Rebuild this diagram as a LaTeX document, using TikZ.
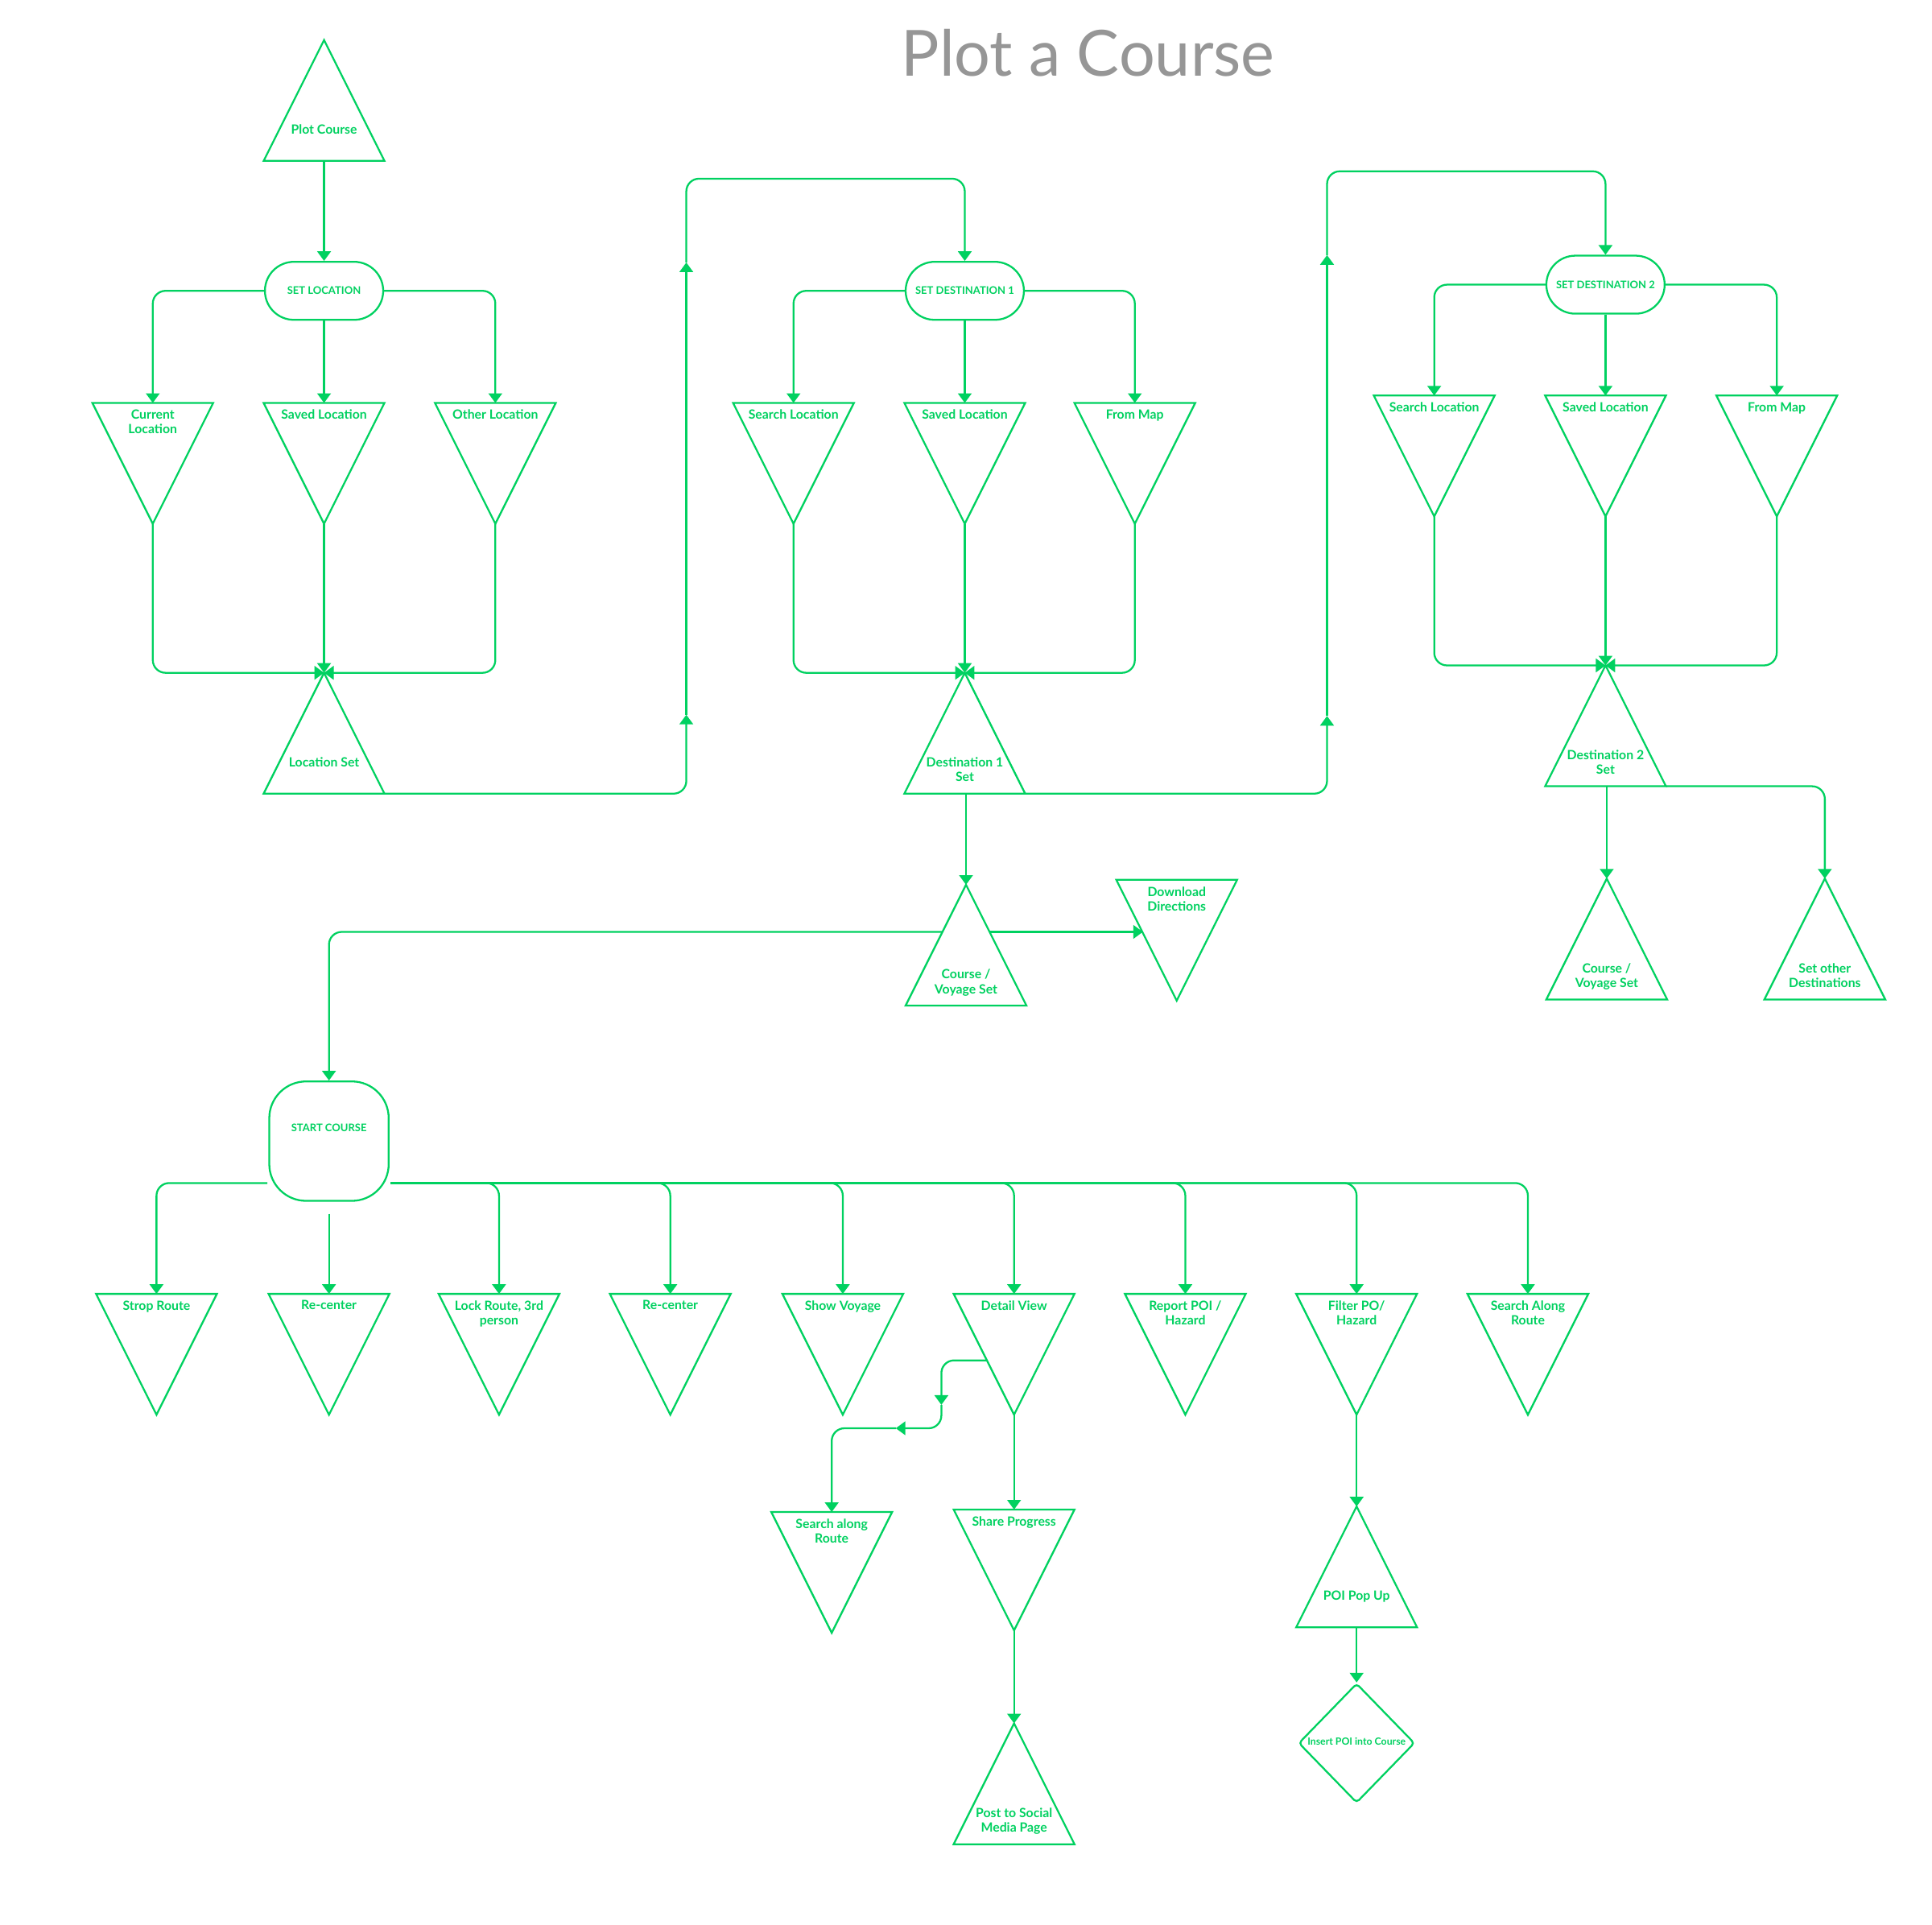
\documentclass[tikz,border=0pt]{standalone}
\usepackage{fontspec}
\setmainfont{Lato}
\usetikzlibrary{arrows.meta,shapes.misc,shapes.geometric,calc}
\definecolor{grn}{RGB}{0,209,96}
\definecolor{ttl}{RGB}{150,150,150}
\tikzset{
  tribox/.style={minimum width=42.7pt,minimum height=42.7pt,inner sep=0pt,outer sep=0pt,draw=none},
  shp/.style={draw=grn,line width=0.65pt},
  lbl/.style={font=\fontsize{4.5pt}{5.2pt}\selectfont\bfseries,text=grn,align=center,inner sep=0pt},
  stad/.style={rounded rectangle,draw=grn,line width=0.65pt,minimum width=41.8pt,minimum height=20.5pt,inner sep=0pt,font=\fontsize{3.7pt}{4.5pt}\selectfont\bfseries,text=grn},
  arr/.style={draw=grn,line width=0.65pt,rounded corners=4.5pt,-{Triangle[width=4.8pt,length=3.4pt]}},
  ln/.style={draw=grn,line width=0.65pt,rounded corners=4.5pt}
}
\newcommand{\DTri}[4]{%
  \node[tribox] (#1) at (#2,#3) {};
  \draw[shp] (#1.north west) -- (#1.north east) -- (#1.south) -- cycle;
  \node[lbl,anchor=north] (#1-t) at ([yshift=-2.2pt]#1.north) {#4};}
\newcommand{\UTri}[4]{%
  \node[tribox] (#1) at (#2,#3) {};
  \draw[shp] (#1.south west) -- (#1.south east) -- (#1.north) -- cycle;
  \node[lbl,anchor=north] (#1-t) at ([yshift=13pt]#1.south) {#4};}
\begin{document}
\begin{tikzpicture}[x=0.015306cm,y=-0.015306cm]
\fill[white] (0,0) rectangle (1568,1562);
\useasboundingbox (0,0) rectangle (1568,1562);

% title
\node[font=\fontsize{22.5pt}{28pt}\selectfont,text=ttl,anchor=base,inner sep=0pt] (title) at (883,62) {Plot a Course};

% ---- group 1
\UTri{plot}{263}{81.5}{Plot Course}
\node[stad] (setloc) at (263,236) {SET LOCATION};
\DTri{curloc}{124}{376}{Current\\Location}
\DTri{savloc}{263}{376}{Saved Location}
\DTri{othloc}{402}{376}{Other Location}
\UTri{locset}{263}{595}{Location Set}

\draw[arr] (plot.south) -- (setloc.north);
\draw[arr] (setloc.west) -| (curloc.north);
\draw[arr] (setloc.south) -- (savloc.north);
\draw[arr] (setloc.east) -| (othloc.north);
\draw[arr] (curloc.south) |- (locset.north);
\draw[arr] (savloc.south) -- (locset.north);
\draw[arr] (othloc.south) |- (locset.north);

% ---- group 2
\node[stad] (setd1) at (783,236) {SET DESTINATION 1};
\DTri{srch1}{644}{376}{Search Location}
\DTri{sav1}{783}{376}{Saved Location}
\DTri{map1}{921}{376}{From Map}
\UTri{dset1}{783}{595}{Destination 1\\Set}

\coordinate (c1) at (557,580);
\coordinate (c2) at (557,213);
\coordinate (c3) at (783,145);
\draw[arr] (locset.south east) -| (c1);
\draw[arr] (c1) -- (c2);
\draw[arr] (c2) |- (c3) -- (setd1.north);

\draw[arr] (setd1.west) -| (srch1.north);
\draw[arr] (setd1.south) -- (sav1.north);
\draw[arr] (setd1.east) -| (map1.north);
\draw[arr] (srch1.south) |- (dset1.north);
\draw[arr] (sav1.south) -- (dset1.north);
\draw[arr] (map1.south) |- (dset1.north);

% ---- group 3
\node[stad] (setd2) at (1303,231) {SET DESTINATION 2};
\DTri{srch2}{1164}{370}{Search Location}
\DTri{sav2}{1303}{370}{Saved Location}
\DTri{map2}{1442}{370}{From Map}
\UTri{dset2}{1303}{589}{Destination 2\\Set}
\UTri{cvs2}{1304}{762}{Course /\\Voyage Set}
\UTri{setoth}{1481}{762}{Set other\\Destinations}

\coordinate (c4) at (1077,581);
\coordinate (c5) at (1077,207);
\coordinate (c6) at (1303,139);
\draw[arr] (dset1.south east) -| (c4);
\draw[arr] (c4) -- (c5);
\draw[arr] (c5) |- (c6) -- (setd2.north);

\draw[arr] (setd2.west) -| (srch2.north);
\draw[arr] (setd2.south) -- (sav2.north);
\draw[arr] (setd2.east) -| (map2.north);
\draw[arr] (srch2.south) |- (dset2.north);
\draw[arr] (sav2.south) -- (dset2.north);
\draw[arr] (map2.south) |- (dset2.north);
\draw[arr] (dset2.south -| cvs2.north) -- (cvs2.north);
\draw[arr] (dset2.south east) -| (setoth.north);

% ---- course set
\UTri{cvs1}{784}{767}{Course /\\Voyage Set}
\DTri{dl}{955}{763}{Download\\Directions}
\draw[arr] (dset1.south -| cvs1.north) -- (cvs1.north);
\coordinate (e1) at ($(cvs1.north)!0.39!(cvs1.south west)$);
\coordinate (e2) at ($(cvs1.north)!0.39!(cvs1.south east)$);
\coordinate (dle) at ($(dl.north west)!0.44!(dl.south)$);
\draw[arr] (e2) -- (e2 -| dle);

% ---- start course
\node[draw=grn,line width=0.65pt,rounded corners=13pt,minimum width=42.2pt,minimum height=42.2pt,inner sep=0pt] (start) at (267,926) {};
\node[font=\fontsize{3.7pt}{4.5pt}\selectfont\bfseries,text=grn,inner sep=0pt] (start-t) at (267,915) {START COURSE};
\draw[arr] (e1) -| (start.north);

\DTri{strop}{127}{1099}{Strop Route}
\DTri{rc1}{267}{1099}{Re-center}
\DTri{lock}{405}{1099}{Lock Route, 3rd\\person}
\DTri{rc2}{544}{1099}{Re-center}
\DTri{show}{684}{1099}{Show Voyage}
\DTri{dv}{823}{1099}{Detail View}
\DTri{rep}{962}{1099}{Report POI /\\Hazard}
\DTri{filt}{1101}{1099}{Filter PO/\\Hazard}
\DTri{salr}{1240}{1099}{Search Along\\Route}

\coordinate (bl) at (217,960);
\coordinate (br) at (317,960);
\coordinate (bb) at (267,985);
\draw[arr] (bl) -| (strop.north);
\draw[arr] (bb) -- (rc1.north);
\draw[arr] (br) -| (lock.north);
\draw[arr] (br) -| (rc2.north);
\draw[arr] (br) -| (show.north);
\draw[arr] (br) -| (dv.north);
\draw[arr] (br) -| (rep.north);
\draw[arr] (br) -| (filt.north);
\draw[arr] (br) -| (salr.north);

% ---- detail view branch
\DTri{sar}{675}{1276}{Search along\\Route}
\DTri{share}{823}{1274}{Share Progress}
\UTri{post}{823}{1447.5}{Post to Social\\Media Page}
\coordinate (e3) at ($(dv.north west)!0.55!(dv.south)$);
\coordinate (k1) at (764,1140);
\coordinate (k2) at (727,1159);
\draw[arr] (e3) -| (k1);
\draw[arr] (k1) |- (k2);
\draw[arr] (k2) -| (sar.north);
\draw[arr] (dv.south) -- (share.north);
\draw[arr] (share.south) -- (post.north);

% ---- POI branch
\UTri{poi}{1101}{1271.5}{POI Pop Up}
\node[diamond,draw=grn,line width=0.65pt,minimum width=41pt,minimum height=42.2pt,inner sep=0pt,rounded corners=1.2pt] (ins) at (1101,1414.5) {};
\node[font=\fontsize{3.5pt}{4.2pt}\selectfont\bfseries,text=grn,inner sep=0pt] (ins-t) at (1101,1413) {Insert POI into Course};
\draw[arr] (filt.south) -- (poi.north);
\draw[arr] (poi.south) -- (ins.north);
\end{tikzpicture}
\end{document}
